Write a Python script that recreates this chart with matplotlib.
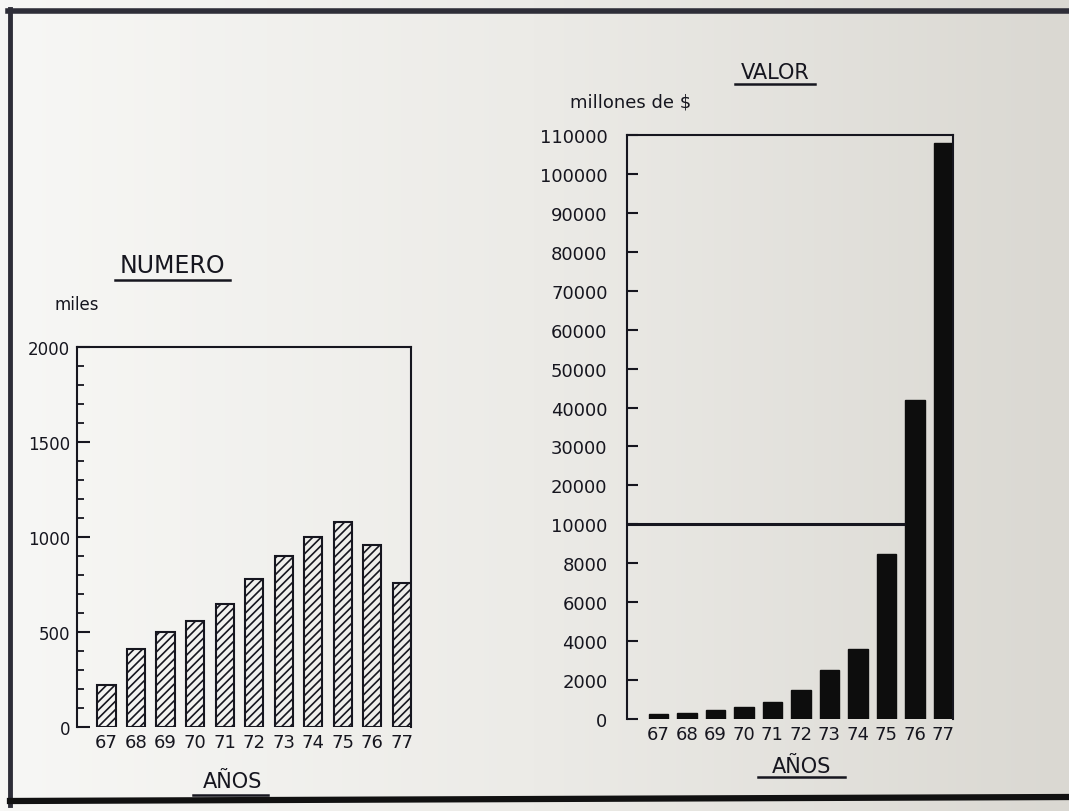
"""
Número y valor por año (67-77), gráfico de barras doble
"""
import numpy as np
import matplotlib.pyplot as plt
from matplotlib.lines import Line2D
from matplotlib.colors import LinearSegmentedColormap

# datos
anios = ['67', '68', '69', '70', '71', '72', '73', '74', '75', '76', '77']
numero_miles = [220, 410, 500, 560, 650, 780, 900, 1000, 1080, 960, 760]
valor_millones = [250, 300, 460, 620, 870, 1500, 2500, 3600, 8500, 42000, 108000]
ticks_num = [0, 500, 1000, 1500, 2000]
ticks_valor = [0, 2000, 4000, 6000, 8000, 10000, 20000, 30000, 40000, 50000,
               60000, 70000, 80000, 90000, 100000, 110000]
corte = 10000

INK = '#16161f'
W, H = 1069, 812

plt.rcParams['font.family'] = ['DejaVu Sans']
plt.rcParams['hatch.linewidth'] = 1.2

fig = plt.figure(figsize=(W / 100, H / 100), dpi=100)

# fondo tipo fotocopia: más claro a la izquierda
bg = fig.add_axes([0, 0, 1, 1], zorder=-10)
grad = np.linspace(0, 1, 256).reshape(1, -1)
cmap = LinearSegmentedColormap.from_list('papel', ['#f7f7f5', '#ecebe7', '#dad8d2'])
bg.imshow(grad, aspect='auto', cmap=cmap, extent=[0, 1, 0, 1])
bg.set_axis_off()


def fx(px):
    return px / W


def fy(py):
    return 1 - py / H


def linea(x0, x1, y0, y1, lw=1.6, color=INK):
    fig.add_artist(Line2D([fx(x0), fx(x1)], [fy(y0), fy(y1)], color=color,
                          lw=lw, transform=fig.transFigure))


# marco de la foto
linea(8, W, 12, 12, lw=4, color='#2e2e38')
linea(10, 10, 10, 806, lw=3.5, color='#2e2e38')
linea(10, W, 802, 798, lw=4.5, color='#111111')

x = np.arange(len(anios))

# ---------- NUMERO ----------
ancho1 = 0.62
ax1 = fig.add_axes([fx(77), fy(728), fx(411) - fx(77), fy(348) - fy(728)])
ax1.patch.set_alpha(0)
ax1.bar(x, numero_miles, width=ancho1, color='none', edgecolor=INK,
        linewidth=1.5, hatch='////')
ax1.set_xlim(-1.0, x[-1] + ancho1 / 2)
ax1.set_ylim(0, 2000)
ax1.set_yticks(ticks_num)
ax1.set_yticks(np.arange(0, 2001, 100), minor=True)
ax1.set_xticks(x)
ax1.set_xticklabels(anios)
ax1.spines['bottom'].set_visible(False)
for s in ['left', 'top', 'right']:
    ax1.spines[s].set_linewidth(1.5)
    ax1.spines[s].set_color(INK)
ax1.tick_params(axis='y', which='major', direction='in', length=9, width=1.5,
                color=INK, labelsize=12, pad=5, labelcolor=INK)
ax1.tick_params(axis='y', which='minor', direction='in', length=5, width=1.3,
                color=INK)
ax1.tick_params(axis='x', length=0, labelsize=13, pad=4, labelcolor=INK)

fig.text(fx(172), fy(266), 'NUMERO', ha='center', va='center', fontsize=17,
         color=INK)
linea(115, 230, 281, 281, lw=1.8)
fig.text(fx(55), fy(305), 'miles', ha='left', va='center', fontsize=12,
         color=INK)
fig.text(fx(233), fy(782), 'AÑOS', ha='center', va='center', fontsize=15,
         color=INK)
linea(193, 268, 796, 796, lw=1.8)


# ---------- VALOR (escala partida en 10000) ----------
def adelante(y):
    y = np.asarray(y, dtype=float)
    return np.where(y <= corte, y / 2000, 5 + (y - corte) / 10000)


def atras(u):
    u = np.asarray(u, dtype=float)
    return np.where(u <= 5, u * 2000, corte + (u - 5) * 10000)


ancho2 = 0.68
ax2 = fig.add_axes([fx(627), fy(720), fx(953) - fx(627), fy(136) - fy(720)])
ax2.patch.set_alpha(0)
ax2.set_yscale('function', functions=(adelante, atras))
ax2.bar(x, valor_millones, width=ancho2, color='#0d0d0d', edgecolor='#0d0d0d')
ax2.set_xlim(-1.1, x[-1] + ancho2 / 2)
ax2.set_ylim(0, 110000)
ax2.set_yticks(ticks_valor)
ax2.set_yticklabels([str(t) for t in ticks_valor])
ax2.set_xticks(x)
ax2.set_xticklabels(anios)
ax2.spines['bottom'].set_visible(False)
for s in ['left', 'top', 'right']:
    ax2.spines[s].set_linewidth(1.5)
    ax2.spines[s].set_color(INK)
ax2.tick_params(axis='y', direction='in', length=8, width=1.5, color=INK,
                labelsize=13, pad=14, labelcolor=INK)
ax2.tick_params(axis='x', length=0, labelsize=13, pad=4, labelcolor=INK)
# línea de corte de escala
ax2.hlines(corte, ax2.get_xlim()[0], x[-2] - ancho2 / 2, color=INK, lw=2.2)

fig.text(fx(775), fy(73), 'VALOR', ha='center', va='center', fontsize=15,
         color=INK)
linea(735, 815, 85, 85, lw=1.8)
fig.text(fx(570), fy(103), 'millones de $', ha='left', va='center',
         fontsize=13, color=INK)
fig.text(fx(802), fy(767), 'AÑOS', ha='center', va='center', fontsize=15,
         color=INK)
linea(758, 845, 778, 778, lw=1.8)

fig.savefig('out.png', dpi=100)
